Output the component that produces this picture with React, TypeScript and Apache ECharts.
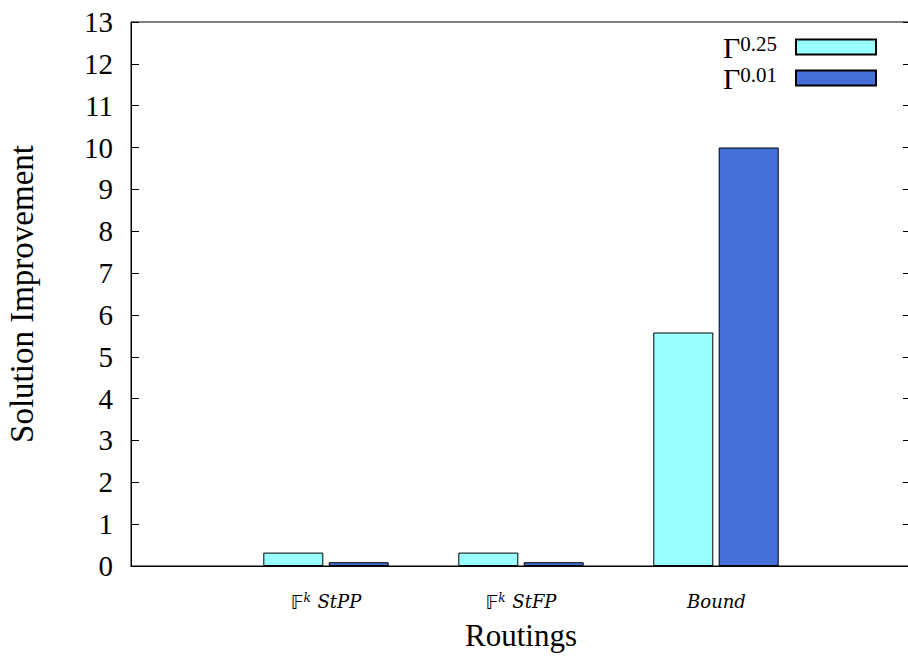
import React, { useEffect, useRef } from "react";
import * as echarts from "echarts";

const categories = ["", "𝔽^k StPP", "𝔽^k StFP", "Bound", ""];
const gamma025 = [null, 0.32, 0.32, 5.58, null];
const gamma001 = [null, 0.09, 0.09, 10.0, null];
const seriesNames = ["Γ0.25", "Γ0.01"];
const yMin = 0;
const yMax = 13;
const yStep = 1;

const SERIF = "Liberation Serif";
const WIDE_SERIF = "DejaVu Serif";

function catLabel(v: string): string {
  if (!v) return "";
  if (v.startsWith("𝔽^k ")) {
    return "{bb|𝔽}{sup|k}{it|" + v.slice(4) + "}";
  }
  return "{it|" + v + "}";
}

function legendLabel(name: string): string {
  return "{g|Γ}{s|" + name.slice(1) + "}";
}

export default function App() {
  const ref = useRef<HTMLDivElement>(null);
  useEffect(() => {
    document.body.style.margin = "0";
    const chart = echarts.init(ref.current!, undefined, { renderer: "svg" });
    chart.setOption({
      animation: false,
      backgroundColor: "#ffffff",
      textStyle: { fontFamily: SERIF },
      grid: {
        left: 131,
        top: 22,
        right: -3,
        bottom: 90,
        containLabel: false,
        outerBoundsMode: "none",
        show: true,
        borderColor: "#000",
        borderWidth: 1,
        backgroundColor: "transparent",
      },
      legend: {
        orient: "vertical",
        right: 31,
        top: 32,
        padding: 0,
        align: "right",
        itemWidth: 80,
        itemHeight: 15,
        itemGap: 1,
        icon: "rect",
        data: seriesNames,
        formatter: (n: string) => legendLabel(n),
        textStyle: {
          fontFamily: SERIF,
          padding: [0, 14, 0, 0],
          rich: {
            g: { fontFamily: SERIF, fontSize: 30, color: "#000", lineHeight: 28 },
            s: {
              fontFamily: SERIF,
              fontSize: 21,
              color: "#000",
              verticalAlign: "top",
              lineHeight: 15,
            },
          },
        },
      },
      xAxis: {
        type: "category",
        data: categories,
        boundaryGap: false,
        axisLine: { lineStyle: { color: "#000", width: 1 } },
        axisTick: { show: false },
        splitLine: { show: false },
        name: "Routings",
        nameLocation: "middle",
        nameGap: 54,
        nameTextStyle: { fontFamily: SERIF, fontSize: 31, color: "#000" },
        axisLabel: {
          interval: 0,
          margin: 26,
          fontFamily: WIDE_SERIF,
          formatter: (v: string) => catLabel(v),
          rich: {
            bb: { fontFamily: "DejaVu Sans", fontSize: 19, color: "#000" },
            sup: {
              fontFamily: WIDE_SERIF,
              fontStyle: "italic",
              fontSize: 12,
              color: "#000",
              verticalAlign: "top",
              lineHeight: 10,
            },
            it: {
              fontFamily: WIDE_SERIF,
              fontStyle: "italic",
              fontSize: 18,
              color: "#000",
              padding: [0, 0, 0, 1],
            },
          },
        },
      },
      yAxis: [
        {
          type: "value",
          min: yMin,
          max: yMax,
          interval: yStep,
          name: "Solution Improvement",
          nameLocation: "middle",
          nameGap: 93,
          nameTextStyle: { fontFamily: SERIF, fontSize: 33, color: "#000" },
          axisLine: { show: true, lineStyle: { color: "#000", width: 1 } },
          axisTick: { show: true, inside: true, length: 8, lineStyle: { color: "#000" } },
          splitLine: { show: false },
          axisLabel: {
            margin: 18,
            fontFamily: SERIF,
            fontSize: 29,
            color: "#000",
          },
        },
        {
          type: "value",
          min: yMin,
          max: yMax,
          interval: yStep,
          position: "right",
          axisLine: { show: false },
          axisTick: { show: true, inside: true, length: 8, lineStyle: { color: "#000" } },
          splitLine: { show: false },
          axisLabel: { show: false },
        },
      ],
      series: [
        {
          name: seriesNames[0],
          type: "bar",
          data: gamma025,
          barWidth: 60,
          barGap: "9%",
          itemStyle: { color: "#99ffff", borderColor: "#000", borderWidth: 1 },
        },
        {
          name: seriesNames[1],
          type: "bar",
          data: gamma001,
          barWidth: 60,
          itemStyle: { color: "#4470d8", borderColor: "#000", borderWidth: 1 },
        },
      ],
    });
    return () => chart.dispose();
  }, []);
  return <div ref={ref} style={{ width: 908, height: 656 }} />;
}
